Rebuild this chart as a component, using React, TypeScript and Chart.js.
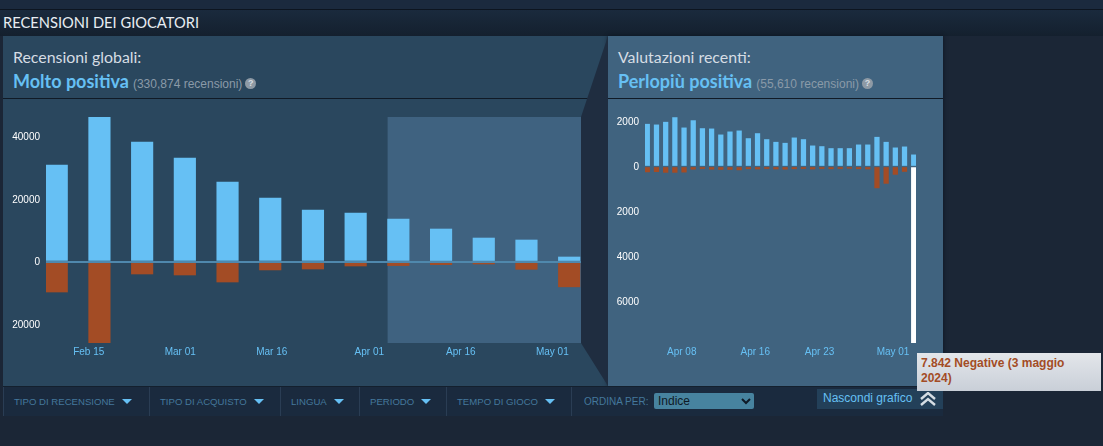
import { useEffect, useRef } from 'react';
import Chart from 'chart.js/auto';

// days are counted from Jan 1 2024
const overallWeeks = [39, 46, 53, 60, 67, 74, 81, 88, 95, 102, 109, 116, 123];
const overallUp = [30830, 46170, 38180, 33070, 25400, 20290, 16450, 15500, 13580, 10380, 7500, 6870, 1440];
const overallDown = [-9750, -26040, -3990, -4310, -6550, -2700, -2400, -1440, -1300, -1000, -800, -2500, -8100];
const overallTickDays = [46, 61, 76, 92, 107, 122];
const overallTickLabels = ['Feb 15', 'Mar 01', 'Mar 16', 'Apr 01', 'Apr 16', 'May 01'];
const overallYTicks = [40000, 20000, 0, -20000];

const recentDays = [95, 96, 97, 98, 99, 100, 101, 102, 103, 104, 105, 106, 107, 108, 109, 110, 111, 112, 113, 114, 115, 116, 117, 118, 119, 120, 121, 122, 123, 124];
const recentUp = [1880, 1850, 1970, 2175, 1717, 2040, 1687, 1672, 1406, 1540, 1584, 1243, 1465, 1199, 1080, 1036, 1273, 1199, 918, 888, 800, 800, 800, 962, 962, 1302, 1080, 829, 873, 518];
const recentDown = [-240, -230, -260, -260, -250, -120, -90, -120, -130, -130, -150, -100, -110, -90, -110, -120, -100, -90, -110, -90, -100, -90, -80, -100, -110, -950, -750, -350, -220, -7842];
const recentTickDays = [99, 107, 114, 122];
const recentTickLabels = ['Apr 08', 'Apr 16', 'Apr 23', 'May 01'];
const recentYTicks = [2000, 0, -2000, -4000, -6000];

const filters = ['TIPO DI RECENSIONE', 'TIPO DI ACQUISTO', 'LINGUA', 'PERIODO', 'TEMPO DI GIOCO'];
const filterLefts = [3, 149, 280, 359, 446];

const BLUE = '#66c0f4';
const RED = '#a34c25';
const LABEL_FONT = '"Liberation Sans", Arial, sans-serif';
const TITLE_FONT = 'Lato, "Open Sans", sans-serif';

const windowShade = {
  id: 'windowShade',
  beforeDatasetsDraw(chart: any, _args: any, opts: any) {
    if (opts.from == null) return;
    const { ctx, chartArea, scales } = chart;
    const left = scales.x.getPixelForValue(opts.from);
    ctx.save();
    ctx.fillStyle = opts.color;
    ctx.fillRect(left, chartArea.top, chartArea.right - left, chartArea.bottom - chartArea.top);
    ctx.restore();
  },
};

interface ReviewChartProps {
  days: number[];
  up: number[];
  down: number[];
  tickDays: number[];
  tickLabels: string[];
  yTicks: number[];
  xMin: number;
  xMax: number;
  yMin: number;
  yMax: number;
  barShift: number;
  thickness: number;
  yWidth: number;
  rightPad: number;
  width: number;
  left: number;
  zeroLine?: string;
  shadeFrom?: number;
  hoverIndex?: number;
}

function ReviewChart(props: ReviewChartProps) {
  const ref = useRef<HTMLCanvasElement>(null);

  useEffect(() => {
    if (!ref.current) return;
    const { days, barShift } = props;
    const toPoints = (vals: number[]) => vals.map((y, i) => ({ x: days[i] + barShift, y }));

    const chart = new Chart(ref.current, {
      type: 'bar',
      data: {
        datasets: [
          { data: toPoints(props.up), backgroundColor: BLUE, barThickness: props.thickness },
          {
            data: toPoints(props.down),
            backgroundColor: (c: any) => (c.dataIndex === props.hoverIndex ? '#ffffff' : RED),
            barThickness: props.thickness,
          },
        ],
      },
      options: {
        responsive: false,
        animation: false,
        layout: { padding: { top: 18, right: props.rightPad, left: 0, bottom: 0 } },
        plugins: {
          legend: { display: false },
          tooltip: { enabled: false },
          windowShade: { from: props.shadeFrom, color: '#3f6280' },
        } as any,
        scales: {
          x: {
            type: 'linear',
            stacked: true,
            offset: false,
            min: props.xMin,
            max: props.xMax,
            grid: { display: false, drawTicks: false },
            border: { display: false },
            afterBuildTicks: (s: any) => {
              s.ticks = props.tickDays.map((value) => ({ value }));
            },
            afterFit: (s: any) => {
              s.height = 43;
            },
            ticks: {
              autoSkip: false,
              maxRotation: 0,
              padding: 3,
              color: BLUE,
              font: { family: LABEL_FONT, size: 10 },
              callback: (v: any) => props.tickLabels[props.tickDays.indexOf(v)],
            },
          },
          y: {
            stacked: true,
            min: props.yMin,
            max: props.yMax,
            grid: {
              z: 1,
              drawTicks: false,
              lineWidth: 2,
              color: (c: any) => (c.tick.value === 0 && props.zeroLine ? props.zeroLine : 'transparent'),
            },
            border: { display: false },
            afterBuildTicks: (s: any) => {
              s.ticks = props.yTicks.map((value) => ({ value }));
            },
            afterFit: (s: any) => {
              s.width = props.yWidth;
            },
            ticks: {
              autoSkip: false,
              padding: 6,
              labelOffset: 1,
              color: '#ffffff',
              font: { family: LABEL_FONT, size: 10 },
              callback: (v: any) => String(Math.abs(v)),
            },
          },
        },
      },
      plugins: [windowShade],
    } as any);

    return () => chart.destroy();
  }, []);

  return (
    <canvas
      ref={ref}
      width={props.width}
      height={287}
      style={{ position: 'absolute', left: props.left, top: 99, width: props.width, height: 287 }}
    />
  );
}

function Summary({ left, title, rating, count }: { left: number; title: string; rating: string; count: string }) {
  return (
    <div style={{ position: 'absolute', left, top: 46, whiteSpace: 'nowrap' }}>
      <div style={{ font: `15.9px ${TITLE_FONT}`, color: '#d6dde4', height: 24, lineHeight: '22px' }}>{title}</div>
      <div style={{ height: 24, lineHeight: '24px' }}>
        <span style={{ font: `bold 18px ${TITLE_FONT}`, color: BLUE }}>{rating}</span>
        <span style={{ font: `12px ${LABEL_FONT}`, color: '#8a9aa8', marginLeft: 4 }}>{count}</span>
        <span
          style={{
            display: 'inline-block',
            width: 11,
            height: 11,
            lineHeight: '11px',
            borderRadius: 6,
            marginLeft: 3,
            background: '#8e9aa5',
            color: '#d8dee3',
            font: `bold 9px/11px ${LABEL_FONT}`,
            textAlign: 'center',
            verticalAlign: 2,
          }}
        >
          ?
        </span>
      </div>
    </div>
  );
}

export default function App() {
  return (
    <div style={{ position: 'fixed', inset: 0, overflow: 'hidden', background: '#1b2636' }}>
      <style>{'body{margin:0}'}</style>
      {/* heading strip */}
      <div style={{ position: 'absolute', left: 0, top: 0, right: 0, height: 9, background: '#1b2a3e' }} />
      <div
        style={{
          position: 'absolute',
          left: 0,
          top: 9,
          right: 0,
          height: 27,
          borderTop: '1px solid #0d1520',
          boxSizing: 'border-box',
          background: 'linear-gradient(#1a2a3d, #14202e)',
          color: '#e8edf2',
          font: `14.7px/25px ${TITLE_FONT}`,
          paddingLeft: 3,
        }}
      >
        RECENSIONI DEI GIOCATORI
      </div>

      {/* panels */}
      <div style={{ position: 'absolute', left: 3, top: 36, width: 605, height: 350, background: '#2a475e' }} />
      <div style={{ position: 'absolute', left: 608, top: 36, width: 335, height: 350, background: '#40637f', boxShadow: '0 0 4px #0c1420' }} />
      <div style={{ position: 'absolute', left: 3, top: 98, width: 940, height: 1, background: '#101a26' }} />
      <svg width={1103} height={446} style={{ position: 'absolute', left: 0, top: 0 }}>
        <polygon points="608,36 581,117 581,343 608,386" fill="#1f2d40" />
      </svg>

      <Summary left={13} title="Recensioni globali:" rating="Molto positiva" count="(330,874 recensioni)" />
      <Summary left={618} title="Valutazioni recenti:" rating="Perlopiù positiva" count="(55,610 recensioni)" />

      <ReviewChart
        days={overallWeeks}
        up={overallUp}
        down={overallDown}
        tickDays={overallTickDays}
        tickLabels={overallTickLabels}
        yTicks={overallYTicks}
        xMin={39}
        xMax={126.7}
        yMin={-26040}
        yMax={46170}
        barShift={1.76}
        thickness={21.5}
        yWidth={43}
        rightPad={26}
        width={604}
        left={3}
        zeroLine="#4f88ad"
        shadeFrom={95}
      />
      <ReviewChart
        days={recentDays}
        up={recentUp}
        down={recentDown}
        tickDays={recentTickDays}
        tickLabels={recentTickLabels}
        yTicks={recentYTicks}
        xMin={95}
        xMax={124.5}
        yMin={-7842}
        yMax={2200}
        barShift={0.25}
        thickness={4.6}
        yWidth={37}
        rightPad={27}
        width={335}
        left={608}
        hoverIndex={recentDays.length - 1}
      />

      {/* filter bar */}
      <div style={{ position: 'absolute', left: 3, top: 386, width: 940, height: 30, background: '#1a2a3e', borderTop: '1px solid #14202e', boxSizing: 'border-box' }} />
      {filters.map((f, i) => (
        <div
          key={f}
          style={{
            position: 'absolute',
            left: filterLefts[i],
            top: 387,
            height: 29,
            borderLeft: '1px solid #2a3d54',
            paddingLeft: 10,
            whiteSpace: 'nowrap',
            color: '#44789c',
            font: `9.6px/29px ${LABEL_FONT}`,
          }}
        >
          {f}
          <span
            style={{
              display: 'inline-block',
              marginLeft: 7,
              borderLeft: '5px solid transparent',
              borderRight: '5px solid transparent',
              borderTop: `5px solid ${BLUE}`,
              verticalAlign: 1,
            }}
          />
        </div>
      ))}
      <div
        style={{
          position: 'absolute',
          left: 571,
          top: 387,
          height: 29,
          borderLeft: '1px solid #2a3d54',
          paddingLeft: 12,
          color: '#44789c',
          font: `10px/29px ${LABEL_FONT}`,
          whiteSpace: 'nowrap',
        }}
      >
        ORDINA PER:
      </div>
      <select
        defaultValue="Indice"
        style={{
          position: 'absolute',
          left: 654,
          top: 393,
          width: 100,
          height: 16,
          padding: 0,
          border: 0,
          borderRadius: 2,
          background: '#47839f',
          color: '#0f1a26',
          font: `12px ${LABEL_FONT}`,
        }}
      >
        <option>Indice</option>
      </select>
      <div
        style={{
          position: 'absolute',
          left: 817,
          top: 389,
          width: 126,
          height: 20,
          background: '#234059',
          color: BLUE,
          font: `12px/18px ${LABEL_FONT}`,
          paddingLeft: 6,
          boxSizing: 'border-box',
          whiteSpace: 'nowrap',
        }}
      >
        Nascondi grafico
        <svg width={16} height={14} style={{ position: 'absolute', left: 103, top: 3 }}>
          <path d="M1 7 L8 1 L15 7 M1 13 L8 7 L15 13" fill="none" stroke="#d5dde4" strokeWidth={2.4} />
        </svg>
      </div>

      {/* hover tooltip of the last bar */}
      <div
        style={{
          position: 'absolute',
          left: 917,
          top: 353,
          width: 184,
          height: 38,
          boxSizing: 'border-box',
          padding: '3px 4px',
          background: 'linear-gradient(#e3e6ea, #c9cfd8)',
          color: RED,
          font: `bold 12px/14.5px ${LABEL_FONT}`,
        }}
      >
        7.842 Negative (3 maggio 2024)
      </div>
    </div>
  );
}
